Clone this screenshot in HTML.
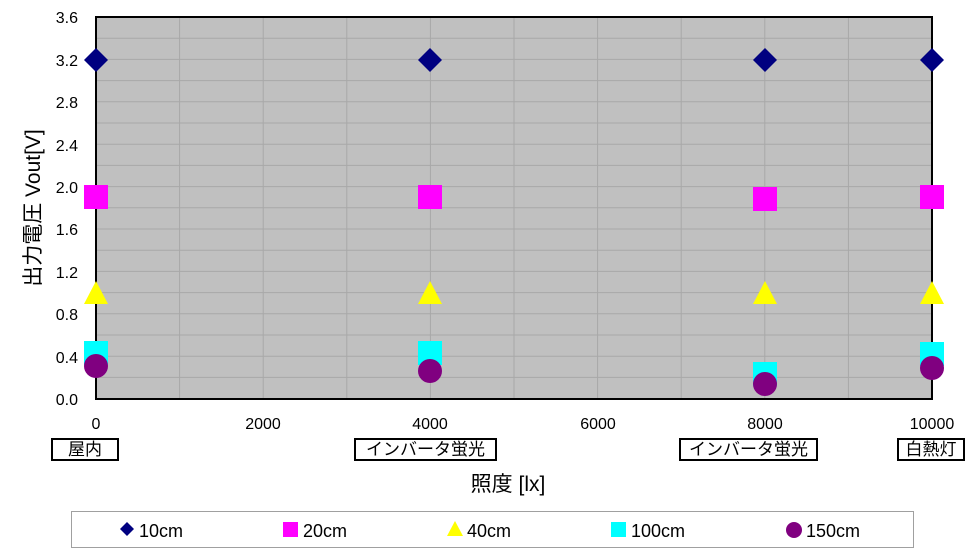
<!DOCTYPE html>
<html><head><meta charset="utf-8"><style>
body{margin:0;background:#fff;width:965px;height:557px;overflow:hidden;font-family:"Liberation Sans","Noto Sans CJK JP",sans-serif}
.cat{position:absolute;top:438px;height:23px;border:2px solid #000;box-sizing:border-box;font-size:17px;line-height:19px;text-align:center;background:#fff}
</style></head><body>
<svg width="965" height="557" style="position:absolute;left:0;top:0" font-family="Liberation Sans, Noto Sans CJK JP, sans-serif">
<rect x="96" y="17" width="836" height="382" fill="#c0c0c0"/>
<g stroke="#a8a8a8" stroke-width="1">
<line x1="96" x2="932" y1="38.2" y2="38.2"/><line x1="96" x2="932" y1="59.4" y2="59.4"/><line x1="96" x2="932" y1="80.6" y2="80.6"/><line x1="96" x2="932" y1="101.8" y2="101.8"/><line x1="96" x2="932" y1="123" y2="123"/><line x1="96" x2="932" y1="144.2" y2="144.2"/><line x1="96" x2="932" y1="165.4" y2="165.4"/><line x1="96" x2="932" y1="186.6" y2="186.6"/><line x1="96" x2="932" y1="207.8" y2="207.8"/><line x1="96" x2="932" y1="229" y2="229"/><line x1="96" x2="932" y1="250.2" y2="250.2"/><line x1="96" x2="932" y1="271.4" y2="271.4"/><line x1="96" x2="932" y1="292.6" y2="292.6"/><line x1="96" x2="932" y1="313.8" y2="313.8"/><line x1="96" x2="932" y1="335" y2="335"/><line x1="96" x2="932" y1="356.2" y2="356.2"/><line x1="96" x2="932" y1="377.4" y2="377.4"/>
<line y1="17" y2="399" x1="179.6" x2="179.6"/><line y1="17" y2="399" x1="263.2" x2="263.2"/><line y1="17" y2="399" x1="346.8" x2="346.8"/><line y1="17" y2="399" x1="430.4" x2="430.4"/><line y1="17" y2="399" x1="514" x2="514"/><line y1="17" y2="399" x1="597.6" x2="597.6"/><line y1="17" y2="399" x1="681.2" x2="681.2"/><line y1="17" y2="399" x1="764.8" x2="764.8"/><line y1="17" y2="399" x1="848.4" x2="848.4"/>
</g>
<rect x="96" y="17" width="836" height="382" fill="none" stroke="#000" stroke-width="2"/>
<g font-size="16" fill="#000" text-anchor="end">
<text x="78" y="23">3.6</text><text x="78" y="66">3.2</text><text x="78" y="108">2.8</text><text x="78" y="151">2.4</text><text x="78" y="193">2.0</text><text x="78" y="235">1.6</text><text x="78" y="278">1.2</text><text x="78" y="320">0.8</text><text x="78" y="363">0.4</text><text x="78" y="405">0.0</text>
</g>
<g font-size="16" text-anchor="middle">
<text x="96" y="429">0</text><text x="263" y="429">2000</text><text x="430" y="429">4000</text><text x="598" y="429">6000</text><text x="765" y="429">8000</text><text x="932" y="429">10000</text>
</g>
<text x="508" y="491" font-size="21" text-anchor="middle">照度 [lx]</text>
<text transform="translate(40,208) rotate(-90)" font-size="21" text-anchor="middle">出力電圧 Vout[V]</text>
<g fill="#00ffff"><rect x="84" y="341" width="24" height="24"/><rect x="418" y="341" width="24" height="24"/><rect x="753" y="362" width="24" height="24"/><rect x="920" y="342" width="24" height="24"/></g>
<g fill="#800080"><circle cx="96" cy="366" r="12"/><circle cx="430" cy="371" r="12"/><circle cx="765" cy="384" r="12"/><circle cx="932" cy="368" r="12"/></g>
<g fill="#ffff00"><polygon points="96,281 108,304 84,304"/><polygon points="430,281 442,304 418,304"/><polygon points="765,281 777,304 753,304"/><polygon points="932,281 944,304 920,304"/></g>
<g fill="#ff00ff"><rect x="84" y="185" width="24" height="24"/><rect x="418" y="185" width="24" height="24"/><rect x="753" y="187" width="24" height="24"/><rect x="920" y="185" width="24" height="24"/></g>
<g fill="#000080"><polygon points="96,48 108,60 96,72 84,60"/><polygon points="430,48 442,60 430,72 418,60"/><polygon points="765,48 777,60 765,72 753,60"/><polygon points="932,48 944,60 932,72 920,60"/></g>
<rect x="71.5" y="511.5" width="842" height="36" fill="#fff" stroke="#a0a0a0"/>
<polygon points="127,522 134,529 127,536 120,529" fill="#000080"/>
<rect x="283" y="522" width="15" height="15" fill="#ff00ff"/>
<polygon points="455,521 463,536 447,536" fill="#ffff00"/>
<rect x="611" y="522" width="15" height="15" fill="#00ffff"/>
<circle cx="794" cy="530" r="8" fill="#800080"/>
<g font-size="18"><text x="139" y="537">10cm</text><text x="303" y="537">20cm</text><text x="467" y="537">40cm</text><text x="631" y="537">100cm</text><text x="806" y="537">150cm</text></g>
</svg>
<div class="cat" style="left:51px;width:68px">屋内</div>
<div class="cat" style="left:354px;width:143px">インバータ蛍光</div>
<div class="cat" style="left:679px;width:139px">インバータ蛍光</div>
<div class="cat" style="left:897px;width:68px">白熱灯</div>
</body></html>
